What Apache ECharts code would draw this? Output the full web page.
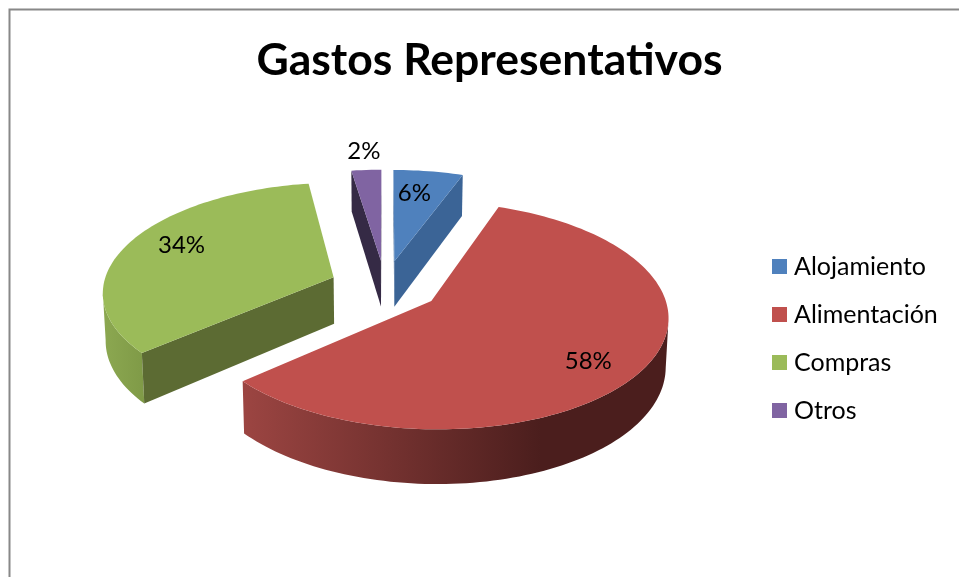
<!DOCTYPE html>
<html>
<head>
<meta charset="utf-8">
<style>html,body{margin:0;padding:0;background:#fff}#c{width:959px;height:577px}</style>
<script src="https://cdn.jsdelivr.net/npm/echarts@6/dist/echarts.min.js"></script>
</head>
<body>
<div id="c"></div>
<script>
const titleText = 'Gastos Representativos';
const categories = ['Alojamiento', 'Alimentación', 'Compras', 'Otros'];
const values = [5.6, 58, 34, 2.4];
const topColors = ['#4F81BD', '#C0504D', '#9BBB59', '#8064A2'];
const wallColors = ['#3B6496', '#8A3A38', '#5C6B33', '#352A45'];
const rimStops = [
  [[0, '#3B6496'], [1, '#3B6496']],
  [[0, '#9C4542'], [0.7, '#4B1E1D'], [1, '#4B1E1D']],
  [[0, '#8CA851'], [1, '#7F9A47']],
  [[0, '#352A45'], [1, '#352A45']]
];
const labelRadius = [0.74, 0.76, 0.74, 1.28];
const labelNudge = [[-6, 1], [-1, 9], [0, -6], [1, 3]];

const view = {cx: 385, cy: 286, rx: 230.5, ry: 108.3, persp: 0.1245, depth: 47, shrink: 0.99, explode: 0.24};
const total = values.reduce((a, b) => a + b, 0);

function project(px, py, lower) {
  const f = 1 / (1 + view.persp * py);
  let x = view.rx * px * f;
  let y = -view.ry * py * f;
  if (lower) { x *= view.shrink; y += view.depth * f; }
  return [view.cx + x, view.cy + y];
}
function sliceAngles(i) {
  let before = 0;
  for (let k = 0; k < i; k++) before += values[k];
  const a0 = before / total * Math.PI * 2;
  const a1 = (before + values[i]) / total * Math.PI * 2;
  return [a0, a1, (a0 + a1) / 2];
}
function wallFaces(apex, edge, inner) {
  const ex = edge[0] - apex[0], ey = edge[1] - apex[1];
  const side = ex * (inner[1] - apex[1]) - ey * (inner[0] - apex[0]);
  return ex !== 0 && ex * side < 0;
}
function renderSlice(i, api) {
  const value = api.value(0);
  const [a0, a1, mid] = sliceAngles(i);
  const ox = view.explode * Math.sin(mid), oy = view.explode * Math.cos(mid);
  const n = Math.max(4, Math.ceil((value / total) * 240));
  const top = [], low = [];
  for (let k = 0; k <= n; k++) {
    const t = a0 + (a1 - a0) * k / n;
    top.push(project(ox + Math.sin(t), oy + Math.cos(t), false));
    low.push(project(ox + Math.sin(t), oy + Math.cos(t), true));
  }
  const apexTop = project(ox, oy, false), apexLow = project(ox, oy, true);
  const inner = top[Math.floor(n / 2)];
  const wall = (t, l) => ({type: 'polygon', shape: {points: [apexTop, t, l, apexLow]}, style: {fill: wallColors[i]}});
  const walls = [];
  if (wallFaces(apexTop, top[0], inner)) walls.push(wall(top[0], low[0]));
  if (wallFaces(apexTop, top[n], inner)) walls.push(wall(top[n], low[n]));

  // The outer rim is only seen where the arc runs leftwards on screen (the near side).
  const rimTop = [], rimLow = [];
  for (let k = 0; k < n; k++) {
    if (top[k + 1][0] < top[k][0]) {
      if (!rimTop.length) { rimTop.push(top[k]); rimLow.push(low[k]); }
      rimTop.push(top[k + 1]); rimLow.push(low[k + 1]);
    }
  }
  const rim = rimTop.length ? [{type: 'polygon', shape: {points: rimTop.concat(rimLow.reverse())},
    style: {fill: new echarts.graphic.LinearGradient(1, 0, 0, 0,
      rimStops[i].map(s => ({offset: s[0], color: s[1]})).map(s => ({offset: 1 - s.offset, color: s.color})).reverse())}}] : [];

  const lr = labelRadius[i];
  const lp = project(ox + lr * Math.sin(mid), oy + lr * Math.cos(mid), false);
  return {
    type: 'group',
    children: [
      ...rim,
      ...walls,
      {type: 'polygon', shape: {points: [apexTop].concat(top)}, style: {fill: topColors[i]}},
      {type: 'text', x: lp[0] + labelNudge[i][0], y: lp[1] + labelNudge[i][1], z2: 10,
       style: {text: Math.round(value / total * 100) + '%', fill: '#000',
         font: '24px Lato', align: 'center', verticalAlign: 'middle'}}
    ]
  };
}

const chart = echarts.init(document.getElementById('c'), null, {renderer: 'canvas'});
chart.setOption({
  animation: false,
  backgroundColor: '#fff',
  title: {
    text: titleText, left: 484.5, top: 33, textAlign: 'center',
    textStyle: {fontFamily: 'Lato', fontWeight: 'bold', fontSize: 44.5, color: '#000'}
  },
  legend: {
    orient: 'vertical', left: 767, top: 247, icon: 'rect',
    itemWidth: 15, itemHeight: 15, itemGap: 19,
    selectedMode: false,
    data: categories,
    textStyle: {fontFamily: 'Lato', fontSize: 25, color: '#000', lineHeight: 29, padding: [0, 0, 0, 2]}
  },
  graphic: [{
    type: 'polyline', silent: true,
    shape: {points: [[9.5, 577], [9.5, 9.5], [959, 9.5]]},
    style: {stroke: '#888', lineWidth: 2, fill: null}
  }],
  series: categories.map((name, i) => ({
    type: 'custom',
    name,
    coordinateSystem: 'none',
    silent: true,
    itemStyle: {color: topColors[i]},
    data: [[values[i]]],
    renderItem: (params, api) => renderSlice(i, api)
  }))
});
</script>
</body>
</html>
